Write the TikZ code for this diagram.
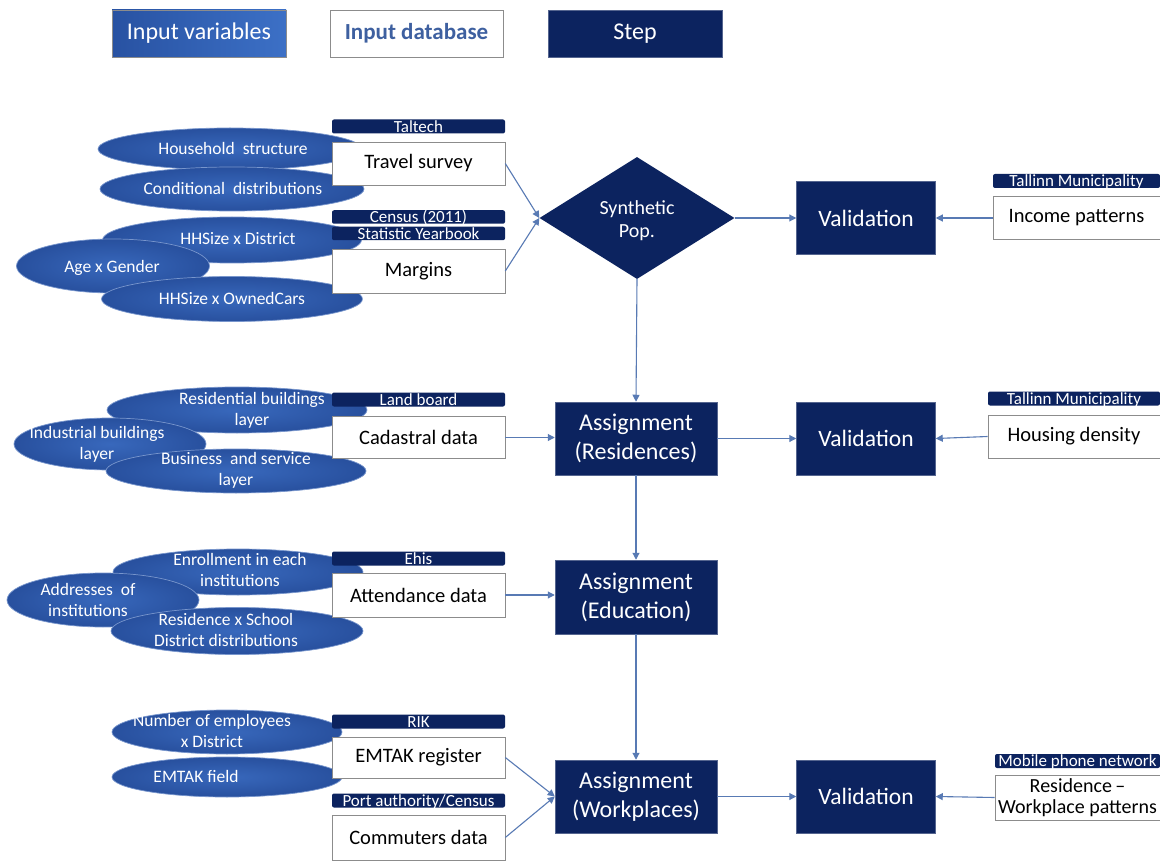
\documentclass[tikz,border=0pt]{standalone}
\usepackage{fontspec}
\setmainfont{Carlito}
\usetikzlibrary{shapes.geometric,arrows.meta}
\definecolor{navy}{RGB}{12,35,95}
\definecolor{ellin}{RGB}{56,104,188}
\definecolor{ellout}{RGB}{40,80,158}
\definecolor{ellline}{RGB}{120,150,205}
\definecolor{lgleft}{RGB}{40,82,162}
\definecolor{lgright}{RGB}{60,112,198}
\definecolor{arrowblue}{RGB}{88,122,180}
\definecolor{dbtext}{RGB}{62,96,160}
\definecolor{boxline}{RGB}{140,140,140}
\tikzset{
  ell/.style={ellipse, inner color=ellin, outer color=ellout, draw=ellline, line width=0.7pt, inner sep=0pt},
  elltext/.style={text=white, align=center, font=\fontsize{17.5}{21}\selectfont, inner sep=0pt},
  dbox/.style={rectangle, draw=boxline, line width=0.6pt, fill=white, text=black, minimum width=173, minimum height=43, inner sep=0pt, align=center, font=\fontsize{20.5}{23}\selectfont},
  tagbox/.style={rectangle, fill=navy, rounded corners=2pt, text=white, minimum width=173, minimum height=14, inner sep=0pt, text height=12.5pt, text depth=1pt, font=\fontsize{17}{18}\selectfont},
  stepbox/.style={rectangle, fill=navy, draw=navy!70!white, line width=0.5pt, text=white, minimum width=162, minimum height=73, inner sep=0pt, align=center, font=\fontsize{24}{29}\selectfont},
  valbox/.style={stepbox, minimum width=139, font=\fontsize{23.5}{28}\selectfont},
  arr/.style={draw=arrowblue, line width=1.1pt, -{Triangle[width=7pt,length=7pt]}},
}
\begin{document}
\begin{tikzpicture}[x=1pt,y=-1pt]
\useasboundingbox (0,0) rectangle (1160,861);
\fill[white] (0,0) rectangle (1160,861);

% legend
\node[rectangle, left color=lgleft, right color=lgright, draw=boxline, line width=0.5pt, minimum width=174, minimum height=47, inner sep=0pt, text=white, font=\fontsize{24}{28}\selectfont] (lgV) at (199,33.5) {Input variables};
\node[rectangle, draw=boxline, line width=0.6pt, fill=white, minimum width=173, minimum height=47, inner sep=0pt, text=dbtext, font=\bfseries\fontsize{23}{28}\selectfont] (lgD) at (416.5,33.5) {Input database};
\node[rectangle, fill=navy, draw=navy!70!white, line width=0.5pt, minimum width=174, minimum height=47, inner sep=0pt, text=white, font=\fontsize{24}{28}\selectfont] (lgS) at (635,33.5) {Step};

% ---------- row 1 ----------
\node[ell, minimum width=264, minimum height=42] (eHH) at (230,149) {};
\node[elltext] (eHHt) at (233,148) {Household\ \ structure};
\node[ell, minimum width=264, minimum height=44] (eCD) at (232,189) {};
\node[elltext] (eCDt) at (233,188) {Conditional\ \ distributions};
\node[ell, minimum width=259, minimum height=46] (eHD) at (232,240) {};
\node[elltext] (eHDt) at (238,239) {HHSize x District};
\node[ell, minimum width=193, minimum height=54] (eAG) at (113,266) {};
\node[elltext] (eAGt) at (112,268) {Age x Gender};
\node[ell, minimum width=261, minimum height=45] (eOC) at (232,299) {};
\node[elltext] (eOCt) at (232,298) {HHSize x OwnedCars};

\node[tagbox] (tTal) at (418.5,126.5) {Taltech};
\node[dbox] (dTS) at (418.5,163.5) {Travel survey};
\node[tagbox, minimum height=13] (tCen) at (418.5,217) {Census (2011)};
\node[tagbox, minimum height=13] (tStat) at (418.5,233.5) {Statistic Yearbook};
\node[dbox, minimum height=44] (dMar) at (418.5,271) {Margins};

\node[diamond, fill=navy, minimum width=195, minimum height=122, inner sep=0pt] (sSyn) at (637,218) {};
\node[text=white, align=center, inner sep=0pt, font=\fontsize{20}{23}\selectfont] (sSynT) at ([yshift=-3pt]sSyn.center) {Synthetic\\Pop.};
\node[valbox] (vVal1) at (866,218) {Validation};
\node[tagbox, minimum width=167] (tTM1) at (1076.5,181) {Tallinn Municipality};
\node[dbox, minimum width=167] (dInc) at (1076.5,218) {Income patterns};

% ---------- row 2 ----------
\node[ell, minimum width=260, minimum height=46] (eRB) at (237,410) {};
\node[elltext] (eRBt) at (252,410) {Residential buildings\\layer};
\node[ell, minimum width=192, minimum height=52] (eIB) at (110,444) {};
\node[elltext] (eIBt) at (97,444) {Industrial buildings\\layer};
\node[ell, minimum width=260, minimum height=44] (eBS) at (236,471) {};
\node[elltext] (eBSt) at (236,470) {Business\ \ and service\\layer};

\node[tagbox] (tLand) at (418.5,399.5) {Land board};
\node[dbox, minimum height=42] (dCad) at (418.5,437.5) {Cadastral data};

\node[stepbox] (sRes) at (636,438.5) {Assignment\\(Residences)};
\node[valbox] (vVal2) at (866,438.5) {Validation};
\node[tagbox, minimum width=172] (tTM2) at (1074,398.5) {Tallinn Municipality};
\node[dbox, minimum width=172] (dHou) at (1074,436.5) {Housing density};

% ---------- row 3 ----------
\node[ell, minimum width=250, minimum height=46] (eEN) at (238,572) {};
\node[elltext] (eENt) at (240,570) {Enrollment in each\\institutions};
\node[ell, minimum width=192, minimum height=54] (eAD) at (103,600) {};
\node[elltext] (eADt) at (88,600) {Addresses\ \ of\\institutions};
\node[ell, minimum width=252, minimum height=47] (eRS) at (237,631) {};
\node[elltext] (eRSt) at (226,630) {Residence x School\\District distributions};

\node[tagbox] (tEhis) at (418.5,558.5) {Ehis};
\node[dbox, minimum height=44] (dAtt) at (418.5,595) {Attendance data};

\node[stepbox, minimum height=74] (sEdu) at (636,597) {Assignment\\(Education)};

% ---------- row 4 ----------
\node[ell, minimum width=230, minimum height=44] (eNE) at (227,732) {};
\node[elltext] (eNEt) at (212,731) {Number of employees\\x District};
\node[ell, minimum width=230, minimum height=40] (eEF) at (227,777) {};
\node[elltext] (eEFt) at (196,776) {EMTAK field};

\node[tagbox] (tRIK) at (418.5,721.5) {RIK};
\node[dbox, minimum height=41] (dEMT) at (418.5,757.5) {EMTAK register};
\node[tagbox] (tPort) at (418.5,800.5) {Port authority/Census};
\node[dbox, minimum height=45] (dCom) at (418.5,837.5) {Commuters data};

\node[stepbox] (sWork) at (636,796.5) {Assignment\\(Workplaces)};
\node[valbox] (vVal3) at (866,796.5) {Validation};
\node[tagbox, minimum width=165] (tMob) at (1077.5,761) {Mobile phone network};
\node[dbox, minimum width=165, minimum height=45, font=\fontsize{20}{21}\selectfont] (dRes) at (1077.5,797.5) {Residence\,--\\Workplace patterns};

% ---------- connectors ----------
\draw[arr] (dTS.east) -- (sSyn.west);
\draw[arr] (dMar.east) -- (sSyn.west);
\draw[arr] (sSyn.east) -- (vVal1.west);
\draw[arr] (dInc.west) -- (vVal1.east);
\draw[arr] (sSyn.south) -- (sRes.north);
\draw[arr] (dCad.east) -- (dCad.east -| sRes.west);
\draw[arr] (sRes.east) -- (vVal2.west);
\draw[arr] (dHou.west) -- (vVal2.east);
\draw[arr] (sRes.south) -- (sEdu.north);
\draw[arr] (dAtt.east) -- (dAtt.east -| sEdu.west);
\draw[arr] (sEdu.south) -- (sWork.north);
\draw[arr] (dEMT.east) -- (sWork.west);
\draw[arr] (dCom.east) -- (sWork.west);
\draw[arr] (sWork.east) -- (vVal3.west);
\draw[arr] (dRes.west) -- (vVal3.east);
\end{tikzpicture}
\end{document}
